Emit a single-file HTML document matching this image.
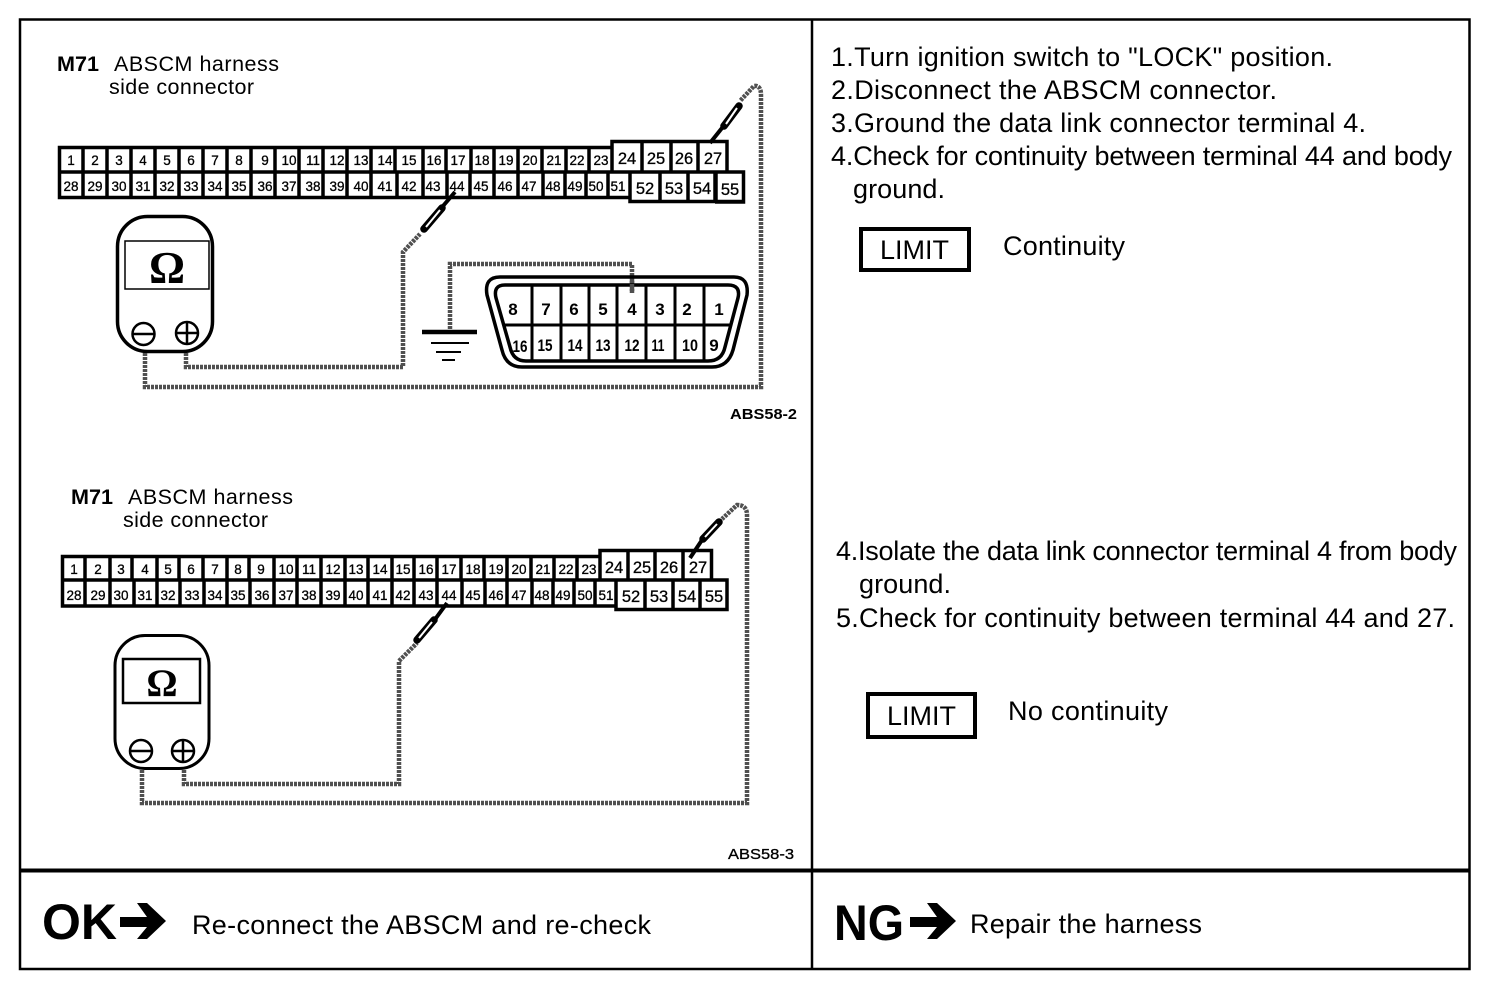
<!DOCTYPE html>
<html><head><meta charset="utf-8"><style>
html,body{margin:0;padding:0;background:#fff}
svg{display:block}
text{font-family:"Liberation Sans",sans-serif;fill:#000}
.n text{font-size:13.5px;text-anchor:middle;stroke:#000;stroke-width:.3px}
.b text{font-size:16.5px;text-anchor:middle;stroke:#000;stroke-width:.3px}
.d text{font-size:17px;text-anchor:middle;font-weight:bold}
.t{font-size:27px}
.h{font-size:21.5px}
.w{fill:none;stroke:#505050;stroke-width:4.5;stroke-dasharray:3 1}
.s{fill:none;stroke:#000;stroke-width:3.5}
</style></head><body>
<svg width="1504" height="1004" viewBox="0 0 1504 1004" xmlns="http://www.w3.org/2000/svg">
<rect width="1504" height="1004" fill="#fff"/>
<!-- frame -->
<path d="M20 19.500H1469.500V969H20Z" fill="none" stroke="#000" stroke-width="2.500"/>
<path d="M812 19V969" stroke="#000" stroke-width="2.500"/>
<path d="M20 870.500H1469" stroke="#000" stroke-width="4"/>

<!-- TOP LEFT -->
<text class="h" x="57" y="71" textLength="42" lengthAdjust="spacingAndGlyphs" style="font-weight:bold">M71</text>
<text class="h" x="114" y="71" textLength="165" lengthAdjust="spacing">ABSCM harness</text>
<text class="h" x="109" y="94" textLength="145" lengthAdjust="spacing">side connector</text>
<text x="730" y="419" font-size="14.500" style="font-weight:bold" textLength="67" lengthAdjust="spacingAndGlyphs">ABS58-2</text>

<!-- top connector -->
<path class="s" d="M59.500 147.500H612V172H59.500ZM59.500 172V197.500H630M612 141.500H727V172H612ZM630 172H743.500V202H715M630 172V201.500H715V172M743.500 172V201.500H715"/>
<path class="s" d="M83 147V172M107 147V172M131 147V172M155 147V172M179 147V172M203 147V172M227 147V172M251 147V172M275 147V172M299 147V172M323 147V172M347 147V172M371 147V172M395 147V172M423 147V172M446 147V172M471 147V172M494 147V172M518 147V172M542 147V172M566 147V172M589 147V172M642 141V172M671 141V172M698 141V172
M83 172V198M107 172V198M131 172V198M155 172V198M179 172V198M203 172V198M227 172V198M251 172V198M275 172V198M299 172V198M323 172V198M347 172V198M371 172V198M397 172V198M423 172V198M447 172V198M470 172V198M494 172V198M518 172V198M543 172V198M565 172V198M586 172V198M608 172V198M660 172V202M688 172V202M716 172V202"/>
<g class="n">
<text x="71" y="165">1</text><text x="95" y="165">2</text><text x="119" y="165">3</text><text x="143" y="165">4</text><text x="167" y="165">5</text><text x="191" y="165">6</text><text x="215" y="165">7</text><text x="239" y="165">8</text><text x="265" y="165">9</text><text x="289" y="165">10</text><text x="313" y="165">11</text><text x="337" y="165">12</text><text x="361" y="165">13</text><text x="385" y="165">14</text><text x="409" y="165">15</text><text x="434" y="165">16</text><text x="458" y="165">17</text><text x="482" y="165">18</text><text x="506" y="165">19</text><text x="530" y="165">20</text><text x="554" y="165">21</text><text x="577" y="165">22</text><text x="601" y="165">23</text>
<text x="71" y="191">28</text><text x="95" y="191">29</text><text x="119" y="191">30</text><text x="143" y="191">31</text><text x="167" y="191">32</text><text x="191" y="191">33</text><text x="215" y="191">34</text><text x="239" y="191">35</text><text x="265" y="191">36</text><text x="289" y="191">37</text><text x="313" y="191">38</text><text x="337" y="191">39</text><text x="361" y="191">40</text><text x="385" y="191">41</text><text x="409" y="191">42</text><text x="433" y="191">43</text><text x="457" y="191">44</text><text x="481" y="191">45</text><text x="505" y="191">46</text><text x="529" y="191">47</text><text x="553" y="191">48</text><text x="575" y="191">49</text><text x="596" y="191">50</text><text x="618" y="191">51</text>
</g>
<g class="b">
<text x="627" y="164">24</text><text x="656" y="164">25</text><text x="684" y="164">26</text><text x="713" y="164">27</text>
<text x="645" y="194">52</text><text x="674" y="194">53</text><text x="702" y="194">54</text><text x="730" y="195">55</text>
</g>
<!-- top meter -->
<rect x="117.500" y="216.500" width="95" height="135" rx="30" ry="30" fill="#fff" stroke="#000" stroke-width="3.500"/>
<rect x="125" y="241" width="84" height="48" fill="none" stroke="#000" stroke-width="1.500"/>
<text x="167" y="283" font-size="45" text-anchor="middle" style="font-family:'Liberation Serif',serif;font-weight:bold">Ω</text>
<circle cx="143.500" cy="334" r="11" fill="none" stroke="#000" stroke-width="2.500"/><path d="M133 334H154" stroke="#000" stroke-width="2.500"/>
<circle cx="187" cy="333" r="11" fill="none" stroke="#000" stroke-width="2.500"/><path d="M176 333H198M187 322V344" stroke="#000" stroke-width="2.500"/>
<!-- top wires -->
<path class="w" d="M145 353V387H761V95Q761 85 754 86L740 101"/>
<path class="w" d="M186 353V367H403V252L420 234"/>
<path class="w" d="M632 292V264H450V331"/>
<!-- probes top -->
<path d="M710 143L722 128" stroke="#000" stroke-width="4"/>
<path d="M724 126L739 106" stroke="#000" stroke-width="7.500" stroke-linecap="round"/><path d="M726 124L737 108" stroke="#fff" stroke-width="2"/>
<path d="M455 192L443 206" stroke="#000" stroke-width="4"/>
<path d="M442 208L424 229" stroke="#000" stroke-width="7.500" stroke-linecap="round"/><path d="M440 210L426 227" stroke="#fff" stroke-width="2"/>
<!-- ground -->
<path d="M422 332H477" stroke="#000" stroke-width="4.500"/><path d="M431 343H469M436 352H461M442 360H455" stroke="#000" stroke-width="2"/>
<!-- D connector -->
<path d="M500 277H734Q749 277 747 295L733 350Q728 367 712 367H522Q506 367 502 350L487 295Q484 277 500 277Z" fill="none" stroke="#000" stroke-width="3.500"/>
<path d="M505 285H728Q741 285 738 298L725 347Q722 361 708 361H526Q513 361 510 347L496 298Q493 285 505 285Z" fill="none" stroke="#000" stroke-width="3.500"/>
<path d="M504 325H731" stroke="#000" stroke-width="3"/>
<path d="M532 285V361M561 285V361M589 285V361M617 285V361M646 285V361M675 285V361M704 285V361" stroke="#000" stroke-width="3"/>
<path class="w" d="M632 280V293"/>
<g class="d">
<text x="513" y="315">8</text><text x="546" y="315">7</text><text x="574" y="315">6</text><text x="603" y="315">5</text><text x="632" y="315">4</text><text x="660" y="315">3</text><text x="687" y="315">2</text><text x="719" y="315">1</text>
</g>
<g class="d" style="font-size:15px">
<text x="520" y="352" textLength="15" lengthAdjust="spacingAndGlyphs">16</text><text x="545" y="351" textLength="15" lengthAdjust="spacingAndGlyphs">15</text><text x="575" y="351" textLength="15" lengthAdjust="spacingAndGlyphs">14</text><text x="603" y="351" textLength="15" lengthAdjust="spacingAndGlyphs">13</text><text x="632" y="351" textLength="15" lengthAdjust="spacingAndGlyphs">12</text><text x="658" y="351" textLength="13" lengthAdjust="spacingAndGlyphs">11</text><text x="690" y="351" textLength="16" lengthAdjust="spacingAndGlyphs">10</text><text x="714" y="351" style="font-size:17px">9</text>
</g>

<!-- BOTTOM LEFT -->
<text class="h" x="71" y="504" textLength="42" lengthAdjust="spacingAndGlyphs" style="font-weight:bold">M71</text>
<text class="h" x="128" y="504" textLength="165" lengthAdjust="spacing">ABSCM harness</text>
<text class="h" x="123" y="527" textLength="145" lengthAdjust="spacing">side connector</text>
<text x="728" y="859" font-size="14.500" stroke="#000" stroke-width=".3" textLength="66" lengthAdjust="spacingAndGlyphs">ABS58-3</text>

<path class="s" d="M62.500 556.500H600V580H62.500ZM62.500 580V606H616M600 550.500H711.500V580H600ZM616 580H727V609.500H616Z"/>
<path class="s" d="M85 556V580M110 556V580M132 556V580M157 556V580M179 556V580M203 556V580M227 556V580M249 556V580M274 556V580M297 556V580M321 556V580M345 556V580M368 556V580M392 556V580M414 556V580M437 556V580M461 556V580M484 556V580M507 556V580M531 556V580M554 556V580M577 556V580M628 550V580M655 550V580M683 550V580
M85 580V606M110 580V606M134 580V606M157 580V606M180 580V606M204 580V606M227 580V606M250 580V606M274 580V606M297 580V606M321 580V606M345 580V606M368 580V606M392 580V606M414 580V606M437 580V606M462 580V606M485 580V606M507 580V606M532 580V606M553 580V606M574 580V606M595 580V606M645 580V610M673 580V610M700 580V610"/>
<g class="n">
<text x="74" y="574">1</text><text x="98" y="574">2</text><text x="121" y="574">3</text><text x="145" y="574">4</text><text x="168" y="574">5</text><text x="191" y="574">6</text><text x="215" y="574">7</text><text x="238" y="574">8</text><text x="261" y="574">9</text><text x="286" y="574">10</text><text x="309" y="574">11</text><text x="333" y="574">12</text><text x="356" y="574">13</text><text x="380" y="574">14</text><text x="403" y="574">15</text><text x="426" y="574">16</text><text x="449" y="574">17</text><text x="473" y="574">18</text><text x="496" y="574">19</text><text x="519" y="574">20</text><text x="543" y="574">21</text><text x="566" y="574">22</text><text x="589" y="574">23</text>
<text x="74" y="600">28</text><text x="98" y="600">29</text><text x="121" y="600">30</text><text x="145" y="600">31</text><text x="168" y="600">32</text><text x="192" y="600">33</text><text x="215" y="600">34</text><text x="238" y="600">35</text><text x="262" y="600">36</text><text x="286" y="600">37</text><text x="309" y="600">38</text><text x="333" y="600">39</text><text x="356" y="600">40</text><text x="380" y="600">41</text><text x="403" y="600">42</text><text x="426" y="600">43</text><text x="449" y="600">44</text><text x="473" y="600">45</text><text x="496" y="600">46</text><text x="519" y="600">47</text><text x="542" y="600">48</text><text x="563" y="600">49</text><text x="585" y="600">50</text><text x="606" y="600">51</text>
</g>
<g class="b">
<text x="614" y="573">24</text><text x="642" y="573">25</text><text x="669" y="573">26</text><text x="698" y="573">27</text>
<text x="631" y="602">52</text><text x="659" y="602">53</text><text x="687" y="602">54</text><text x="714" y="602">55</text>
</g>
<!-- bottom meter -->
<rect x="115" y="635.500" width="94" height="133" rx="30" ry="30" fill="#fff" stroke="#000" stroke-width="3"/>
<rect x="123" y="659" width="77" height="44" fill="none" stroke="#000" stroke-width="2.500"/>
<text x="162" y="696" font-size="39" text-anchor="middle" style="font-family:'Liberation Serif',serif;font-weight:bold">Ω</text>
<circle cx="141" cy="751" r="11" fill="none" stroke="#000" stroke-width="2.500"/><path d="M130 751H152" stroke="#000" stroke-width="2.500"/>
<circle cx="183" cy="751" r="11" fill="none" stroke="#000" stroke-width="2.500"/><path d="M172 751H194M183 740V762" stroke="#000" stroke-width="2.500"/>
<path class="w" d="M142 770V803L420 803H747V515Q747 505 737 505L722 519"/>
<path class="w" d="M184 770V784H399V661L417 643"/>
<path d="M690 558L702 540" stroke="#000" stroke-width="4"/>
<path d="M703 539L719 522" stroke="#000" stroke-width="7.500" stroke-linecap="round"/><path d="M705 537L717 524" stroke="#fff" stroke-width="2"/>
<path d="M447 603L436 618" stroke="#000" stroke-width="4"/>
<path d="M434 620L417 640" stroke="#000" stroke-width="7.500" stroke-linecap="round"/><path d="M432 622L419 638" stroke="#fff" stroke-width="2"/>

<!-- RIGHT TEXT -->
<text class="t" x="831" y="66" textLength="502" lengthAdjust="spacing">1.Turn ignition switch to "LOCK" position.</text>
<text class="t" x="831" y="99" textLength="446" lengthAdjust="spacing">2.Disconnect the ABSCM connector.</text>
<text class="t" x="831" y="132" textLength="535" lengthAdjust="spacing">3.Ground the data link connector terminal 4.</text>
<text class="t" x="831" y="165" textLength="621" lengthAdjust="spacing">4.Check for continuity between terminal 44 and body</text>
<text class="t" x="853" y="198" textLength="92" lengthAdjust="spacing">ground.</text>
<rect x="861" y="229" width="108" height="41" fill="none" stroke="#000" stroke-width="4"/>
<text class="t" x="880" y="259" textLength="69" lengthAdjust="spacing">LIMIT</text>
<text class="t" x="1003" y="255" textLength="122" lengthAdjust="spacing">Continuity</text>

<text class="t" x="836" y="560" textLength="621" lengthAdjust="spacing">4.Isolate the data link connector terminal 4 from body</text>
<text class="t" x="859" y="593" textLength="92" lengthAdjust="spacing">ground.</text>
<text class="t" x="836" y="627" textLength="619" lengthAdjust="spacing">5.Check for continuity between terminal 44 and 27.</text>
<rect x="868" y="694" width="107" height="43" fill="none" stroke="#000" stroke-width="4"/>
<text class="t" x="887" y="725" textLength="69" lengthAdjust="spacing">LIMIT</text>
<text class="t" x="1008" y="720" textLength="160" lengthAdjust="spacing">No continuity</text>

<!-- BOTTOM BAND -->
<text x="42" y="939" font-size="50" style="font-weight:bold" textLength="75" lengthAdjust="spacingAndGlyphs">OK</text>
<path d="M120 917H147L137 903H147L166 921L147 939H137L147 927H120Z" fill="#000"/>
<text class="t" x="192" y="934" textLength="459" lengthAdjust="spacing">Re-connect the ABSCM and re-check</text>
<text x="834" y="940" font-size="50" style="font-weight:bold" textLength="70" lengthAdjust="spacingAndGlyphs">NG</text>
<path d="M910 917H937L927 903H937L956 921L937 939H927L937 927H910Z" fill="#000"/>
<text class="t" x="970" y="933" textLength="232" lengthAdjust="spacing">Repair the harness</text>
</svg>
</body></html>
